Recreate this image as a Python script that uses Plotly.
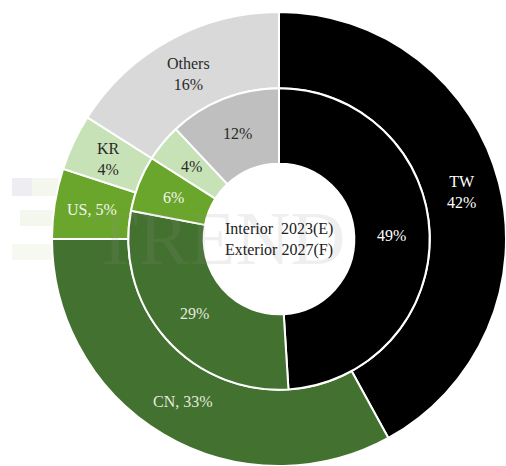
import math
import plotly.graph_objects as go

# Market share by region: inner ring = 2023(E), outer ring = 2027(F)
regions = ["TW", "CN", "US", "KR", "Others"]
share_2023 = [49, 29, 6, 4, 12]
share_2027 = [42, 33, 5, 4, 16]

outer_labels = ["TW<br>{}%", "CN, {}%", "US, {}%", "KR<br>{}%", "Others<br>{}%"]
inner_labels = ["{}%"] * 5

outer_colors = ["#000000", "#43712F", "#6AA62B", "#C8E2B8", "#D9D9D9"]
inner_colors = ["#000000", "#43712F", "#6AA62B", "#C8E2B8", "#BFBFBF"]
text_colors = ["#FFFFFF", "#E4EBDF", "#F2F6EE", "#2A2A2A", "#2A2A2A"]

W, H = 506, 466
R_OUT = 227
CX, CY = W - R_OUT, R_OUT          # pixel centre (from left, from bottom)
R_MID = R_OUT * 152 / 229
R_IN = R_MID * 0.5

FONT = "Liberation Serif"
FS = 16

fig = go.Figure()


def ring(values, colors, hole, radius):
    return go.Pie(
        labels=regions,
        values=values,
        textinfo="none",
        sort=False,
        direction="clockwise",
        rotation=0,
        hole=hole,
        marker=dict(colors=colors, line=dict(color="white", width=2)),
        domain=dict(x=[(CX - radius) / W, min(1, (CX + radius) / W)],
                    y=[max(0, (CY - radius) / H), (CY + radius) / H]),
        showlegend=False,
        hoverinfo="label+value",
    )


fig.add_trace(ring(share_2027, outer_colors, R_MID / R_OUT, R_OUT))
fig.add_trace(ring(share_2023, inner_colors, R_IN / R_MID, R_MID))


def label_ring(values, templates, r_lo, r_hi):
    """Place each slice's label at the middle of its arc, halfway across the ring."""
    total = sum(values)
    r = (r_lo + r_hi) / 2
    acc = 0
    for v, tpl, col in zip(values, templates, text_colors):
        mid = 2 * math.pi * (acc + v / 2) / total
        acc += v
        fig.add_annotation(
            x=(CX + r * math.sin(mid)) / W,
            y=(CY + r * math.cos(mid)) / H,
            xref="paper", yref="paper",
            xanchor="center", yanchor="middle",
            text=tpl.format(v), showarrow=False, align="center",
            font=dict(family=FONT, size=FS, color=col),
        )


# faint brand watermark behind the labels
for y0, y1, x0, x1, c in [(178, 196, 12, 32, "rgba(200,200,212,0.30)"),
                          (178, 196, 32, 60, "rgba(214,228,196,0.30)"),
                          (210, 226, 20, 60, "rgba(214,228,196,0.30)"),
                          (244, 260, 12, 60, "rgba(222,234,208,0.30)")]:
    fig.add_shape(type="rect", xref="paper", yref="paper", layer="below",
                  x0=x0 / W, x1=x1 / W, y0=1 - y1 / H, y1=1 - y0 / H,
                  line=dict(width=0), fillcolor=c)

fig.add_annotation(
    x=218 / W, y=(H - 238) / H, xref="paper", yref="paper",
    xanchor="center", yanchor="middle",
    text="TREND", showarrow=False,
    font=dict(family=FONT, size=76, color="rgba(140,140,140,0.14)"),
)

label_ring(share_2027, outer_labels, R_MID, R_OUT)
label_ring(share_2023, inner_labels, R_IN, R_MID)

# centre legend for the two rings
fig.add_annotation(
    x=CX / W, y=CY / H, xref="paper", yref="paper",
    xanchor="center", yanchor="middle",
    text="Interior  2023(E)<br>Exterior 2027(F)",
    showarrow=False, align="left",
    font=dict(family=FONT, size=FS, color="#222222"),
)

fig.update_layout(
    width=W, height=H,
    margin=dict(l=0, r=0, t=0, b=0),
    paper_bgcolor="white",
    plot_bgcolor="white",
)

fig.write_html("out.html")
